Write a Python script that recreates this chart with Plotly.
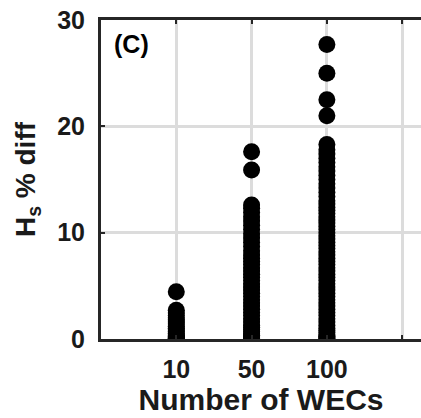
import plotly.graph_objects as go

categories = ["10", "50", "100"]
tick_labels = ["10", "50", "100"]
y_ticks = [0, 10, 20, 30]

hs_diff_10 = [0.0, 0.05, 0.1, 0.2, 0.3, 0.4, 0.55, 0.7, 0.85, 1.0, 1.2, 1.4,
              1.6, 1.8, 2.0, 2.2, 2.45, 2.7, 4.45]
hs_diff_50 = [0.0, 0.1, 0.2, 0.35, 0.5, 0.7, 0.9, 1.1, 1.3, 1.6, 1.9, 2.2, 2.5,
              2.8, 3.1, 3.4, 3.7, 4.0, 4.3, 4.6, 4.9, 5.2, 5.5, 5.8, 6.1, 6.4,
              6.7, 7.0, 7.3, 7.6, 7.9, 8.3, 8.7, 9.1, 9.5, 9.9, 10.3, 10.7,
              11.1, 11.5, 11.9, 12.3, 12.6, 15.9, 17.6]
hs_diff_100 = [0.0, 0.1, 0.25, 0.4, 0.6, 0.8, 1.0, 1.3, 1.6, 1.9, 2.2, 2.5, 2.8,
               3.1, 3.4, 3.7, 4.0, 4.3, 4.6, 4.9, 5.2, 5.5, 5.8, 6.1, 6.4, 6.7,
               7.0, 7.3, 7.6, 7.9, 8.2, 8.5, 8.8, 9.1, 9.4, 9.7, 10.0, 10.3,
               10.6, 10.9, 11.2, 11.5, 11.8, 12.1, 12.4, 12.7, 13.0, 13.4, 13.8,
               14.2, 14.6, 15.0, 15.4, 15.8, 16.2, 16.6, 17.0, 17.4, 17.8, 18.3,
               21.0, 22.5, 25.0, 27.7]

series = [hs_diff_10, hs_diff_50, hs_diff_100]

FONT = "Liberation Sans, Arial, sans-serif"

fig = go.Figure()
for i, vals in enumerate(series):
    fig.add_trace(go.Scatter(
        x=[i + 1] * len(vals), y=vals, mode="markers",
        marker=dict(color="black", size=17, line=dict(width=0)),
        showlegend=False, name=categories[i]))

fig.update_layout(
    width=421, height=418,
    margin=dict(l=101, r=0, t=20, b=79),
    plot_bgcolor="white", paper_bgcolor="white",
    font=dict(family=FONT, color="#1a1a1a"),
    xaxis=dict(
        range=[0, 4.25], tickmode="array",
        tickvals=list(range(1, len(categories) + 1)),
        ticktext=tick_labels, showgrid=True, gridcolor="#dcdcdc", gridwidth=3,
        minor=dict(tickmode="array", tickvals=[len(categories) + 1],
                   showgrid=True, gridcolor="#dcdcdc", gridwidth=3,
                   ticks="inside", ticklen=4, tickwidth=2, tickcolor="#262626"),
        showline=True, linecolor="#262626", linewidth=3, mirror="ticks",
        ticks="inside", ticklen=4, tickwidth=2, tickcolor="#262626",
        tickfont=dict(size=25, family=FONT, weight="bold"),
        ticklabelstandoff=6, zeroline=False,
        title=dict(text="Number of WECs", standoff=4,
                   font=dict(size=30, family=FONT, weight="bold")),
    ),
    yaxis=dict(
        range=[0, 30], tickmode="array", tickvals=y_ticks,
        showgrid=True, gridcolor="#dcdcdc", gridwidth=3,
        showline=True, linecolor="#262626", linewidth=3, mirror=False,
        ticks="inside", ticklen=4, tickwidth=2, tickcolor="#262626",
        tickfont=dict(size=25, family=FONT, weight="bold"),
        ticklabelstandoff=8, zeroline=False,
        title=dict(text="H<sub>s</sub> % diff", standoff=14,
                   font=dict(size=28, family=FONT, weight="bold")),
    ),
    annotations=[dict(text="(C)", xref="paper", yref="paper", x=0.035, y=0.925,
                      xanchor="left", yanchor="middle", showarrow=False,
                      font=dict(size=25, family=FONT, weight="bold", color="black"))],
)

fig.write_html("out.html", config={"displayModeBar": False},
               post_script="document.body.style.margin='0';")
